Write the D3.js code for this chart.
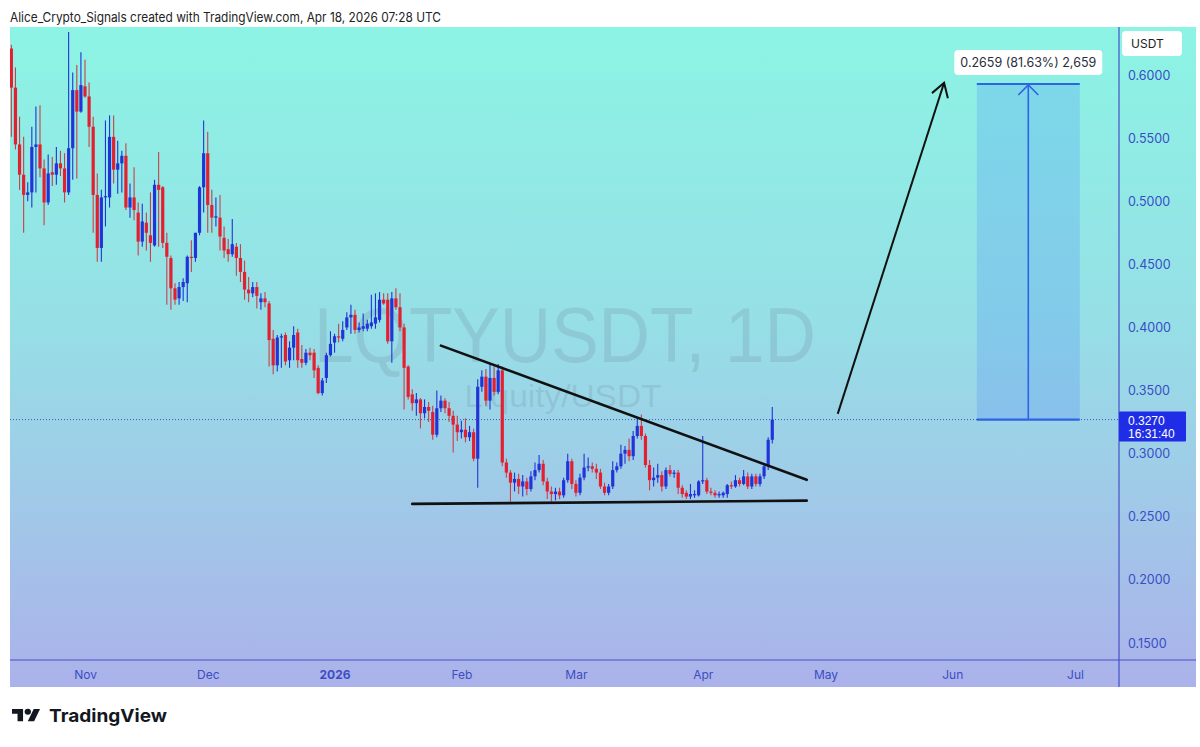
<!DOCTYPE html>
<html><head><meta charset="utf-8">
<script src="https://cdn.jsdelivr.net/npm/d3@7"></script>
<style>
body{margin:0;background:#fff;}
svg{display:block;font-family:"Inter","Liberation Sans",Arial,sans-serif;}
</style>
</head><body>
<svg id="c" width="1200" height="747"></svg>
<script>
// ---------- DATA ----------
const startDate = "2025-10-14"; // first daily candle
const opens = [
0.621,0.590,0.545,0.521,0.505,0.507,0.543,0.545,0.526,0.499,0.523,0.521,0.530,0.526,0.507,0.542,0.588,0.571,0.591,0.583,
0.559,0.505,0.463,0.503,0.503,0.551,0.525,0.530,0.536,0.495,0.503,0.491,0.468,0.483,0.473,0.465,0.513,0.511,0.467,0.455,
0.431,0.423,0.432,0.435,0.456,0.455,0.475,0.511,0.538,0.497,0.487,0.487,0.471,0.462,0.458,0.464,0.455,0.444,0.430,0.427,
0.432,0.420,0.423,0.419,0.391,0.370,0.392,0.394,0.374,0.384,0.396,0.375,0.372,0.380,0.380,0.368,0.348,0.360,0.378,0.388,
0.393,0.391,0.400,0.408,0.410,0.398,0.399,0.399,0.401,0.403,0.406,0.422,0.422,0.389,0.423,0.416,0.400,0.369,0.347,0.340,
0.343,0.332,0.337,0.333,0.315,0.336,0.342,0.336,0.330,0.323,0.317,0.319,0.313,0.317,0.296,0.353,0.361,0.342,0.360,0.349,
0.366,0.293,0.285,0.277,0.280,0.274,0.278,0.272,0.282,0.287,0.292,0.278,0.270,0.268,0.270,0.267,0.279,0.294,0.276,0.269,
0.281,0.289,0.290,0.288,0.285,0.274,0.269,0.274,0.287,0.290,0.300,0.303,0.298,0.314,0.322,0.314,0.291,0.279,0.281,0.283,
0.274,0.287,0.284,0.285,0.273,0.269,0.266,0.267,0.267,0.278,0.279,0.270,0.269,0.267,0.267,0.268,0.275,0.274,0.279,0.276,
0.282,0.274,0.282,0.276,0.282,0.290,0.311];
const highs = [
0.624,0.606,0.567,0.551,0.515,0.559,0.575,0.576,0.533,0.537,0.535,0.543,0.540,0.538,0.634,0.602,0.608,0.618,0.612,0.594,
0.567,0.522,0.509,0.564,0.568,0.568,0.548,0.540,0.546,0.514,0.527,0.499,0.498,0.491,0.507,0.517,0.539,0.512,0.475,0.457,
0.435,0.436,0.439,0.457,0.469,0.475,0.512,0.564,0.555,0.509,0.503,0.505,0.480,0.470,0.486,0.467,0.466,0.453,0.440,0.436,
0.436,0.427,0.428,0.421,0.398,0.394,0.395,0.396,0.389,0.401,0.399,0.386,0.383,0.384,0.383,0.370,0.360,0.380,0.397,0.395,
0.403,0.405,0.412,0.418,0.414,0.404,0.411,0.406,0.426,0.427,0.428,0.427,0.427,0.428,0.431,0.427,0.403,0.370,0.351,0.348,
0.344,0.343,0.341,0.338,0.350,0.346,0.344,0.341,0.334,0.330,0.326,0.328,0.322,0.320,0.359,0.366,0.367,0.371,0.369,0.371,
0.369,0.296,0.287,0.285,0.284,0.283,0.281,0.286,0.293,0.299,0.295,0.281,0.274,0.273,0.273,0.281,0.300,0.296,0.279,0.284,
0.300,0.297,0.293,0.292,0.288,0.277,0.276,0.294,0.293,0.307,0.306,0.312,0.318,0.328,0.331,0.316,0.295,0.289,0.292,0.286,
0.289,0.291,0.287,0.287,0.275,0.271,0.276,0.271,0.279,0.314,0.281,0.273,0.271,0.270,0.270,0.276,0.278,0.283,0.281,0.287,
0.285,0.284,0.284,0.284,0.291,0.313,0.337];
const lows = [
0.551,0.541,0.509,0.475,0.500,0.495,0.507,0.519,0.481,0.497,0.512,0.513,0.520,0.499,0.505,0.517,0.518,0.570,0.582,0.543,
0.475,0.452,0.452,0.480,0.495,0.514,0.506,0.507,0.493,0.487,0.485,0.457,0.464,0.461,0.452,0.464,0.464,0.463,0.418,0.414,
0.418,0.418,0.421,0.420,0.444,0.452,0.473,0.491,0.475,0.475,0.480,0.461,0.455,0.452,0.456,0.441,0.436,0.422,0.420,0.424,
0.415,0.414,0.416,0.369,0.363,0.365,0.368,0.370,0.368,0.374,0.368,0.368,0.370,0.374,0.360,0.347,0.346,0.356,0.377,0.380,
0.388,0.389,0.398,0.395,0.395,0.396,0.397,0.397,0.399,0.399,0.404,0.418,0.387,0.372,0.414,0.397,0.335,0.343,0.334,0.330,
0.320,0.328,0.325,0.311,0.313,0.333,0.332,0.325,0.301,0.310,0.312,0.309,0.310,0.294,0.273,0.349,0.338,0.335,0.346,0.347,
0.290,0.281,0.262,0.270,0.268,0.266,0.267,0.270,0.279,0.285,0.275,0.264,0.262,0.263,0.264,0.265,0.277,0.272,0.266,0.267,
0.279,0.286,0.285,0.280,0.272,0.267,0.267,0.272,0.285,0.288,0.292,0.294,0.295,0.312,0.311,0.289,0.271,0.274,0.277,0.270,
0.272,0.282,0.281,0.268,0.265,0.264,0.264,0.265,0.266,0.276,0.268,0.267,0.265,0.265,0.265,0.265,0.272,0.273,0.274,0.275,
0.272,0.272,0.274,0.274,0.280,0.287,0.308];
const closes = [
0.590,0.545,0.521,0.505,0.507,0.543,0.545,0.526,0.499,0.522,0.521,0.530,0.526,0.507,0.542,0.588,0.571,0.592,0.583,0.559,
0.505,0.463,0.503,0.504,0.551,0.525,0.530,0.536,0.495,0.503,0.493,0.468,0.484,0.475,0.467,0.513,0.509,0.467,0.456,0.431,
0.422,0.432,0.436,0.456,0.455,0.475,0.511,0.538,0.497,0.487,0.488,0.472,0.461,0.458,0.466,0.455,0.444,0.430,0.427,0.432,
0.425,0.423,0.420,0.390,0.370,0.392,0.393,0.373,0.384,0.394,0.374,0.372,0.380,0.378,0.366,0.348,0.358,0.378,0.387,0.393,
0.392,0.398,0.408,0.410,0.398,0.400,0.401,0.403,0.404,0.408,0.422,0.419,0.389,0.423,0.416,0.400,0.368,0.345,0.340,0.343,
0.332,0.337,0.334,0.315,0.336,0.342,0.336,0.330,0.323,0.317,0.319,0.313,0.317,0.296,0.353,0.361,0.342,0.360,0.349,0.366,
0.293,0.285,0.277,0.280,0.274,0.278,0.272,0.282,0.287,0.292,0.278,0.270,0.268,0.270,0.267,0.279,0.294,0.276,0.269,0.281,
0.289,0.290,0.288,0.285,0.274,0.269,0.274,0.287,0.290,0.300,0.303,0.298,0.314,0.322,0.314,0.291,0.279,0.281,0.283,0.274,
0.287,0.284,0.285,0.273,0.268,0.266,0.268,0.268,0.278,0.279,0.270,0.269,0.267,0.268,0.269,0.275,0.274,0.279,0.276,0.282,
0.274,0.282,0.276,0.282,0.290,0.311,0.327];

const priceTicks = [0.15,0.20,0.25,0.30,0.35,0.40,0.45,0.50,0.55,0.60];
const timeTickDates = ["2025-11-01","2025-12-01","2026-01-01","2026-02-01","2026-03-01","2026-04-01","2026-05-01","2026-06-01","2026-07-01"];
const timeTickLabels = ["Nov","Dec","2026","Feb","Mar","Apr","May","Jun","Jul"];
const lastPrice = 0.3270;
const countdown = "16:31:40";
const resistanceLine = [["2026-01-27T00:00Z",0.3856],["2026-04-26T10:00Z",0.2793]];
const supportLine    = [["2026-01-20T00:00Z",0.2602],["2026-04-26T10:00Z",0.2628]];
const targetArrow    = [["2026-05-04T00:00Z",0.3315],["2026-05-30T00:00Z",0.5939]];
const measureDates   = ["2026-06-07T00:00Z","2026-07-02T04:00Z"];
const measurePrices  = [0.3270,0.5929];
const measureLabel   = "0.2659 (81.63%) 2,659";
const headerText = "Alice_Crypto_Signals created with TradingView.com, Apr 18, 2026 07:28 UTC";
const symbolText = "LQTYUSDT, 1D";
const symbolSub = "Liquity/USDT";

// ---------- DRAW ----------
const svg = d3.select("#c");
const plotL = 10, plotR = 1119, plotT = 27, plotB = 660, areaR = 1196, areaB = 687;
const x = d3.scaleUtc().domain([new Date("2025-11-01T00:00Z"), new Date("2026-07-01T00:00Z")]).range([85,1075]);
const y = d3.scaleLinear().domain([0.15,0.60]).range([643,75]);
const red = "#e3202f", blue = "#2234d8";

const defs = svg.append("defs");
const grad = defs.append("linearGradient").attr("id","bg").attr("x1",0).attr("y1",0).attr("x2",0).attr("y2",1);
grad.append("stop").attr("offset","0%").attr("stop-color","#8cf4e4");
grad.append("stop").attr("offset","45%").attr("stop-color","#96dfe6");
grad.append("stop").attr("offset","100%").attr("stop-color","#abb2ea");
defs.append("clipPath").attr("id","plot").append("rect")
  .attr("x",plotL).attr("y",plotT).attr("width",plotR-plotL).attr("height",plotB-plotT);

svg.append("rect").attr("x",plotL).attr("y",plotT).attr("width",areaR-plotL).attr("height",areaB-plotT).attr("fill","url(#bg)");

// header
svg.append("text").attr("x",10).attr("y",22).attr("font-size",13).attr("fill","#222")
  .attr("textLength",431).attr("lengthAdjust","spacingAndGlyphs").text(headerText);

// watermark
const wmFont = "Liberation Sans, Arial, sans-serif";
svg.append("text").attr("x",565).attr("y",362).attr("text-anchor","middle").attr("font-size",78).attr("font-family",wmFont)
  .attr("fill","#6f8696").attr("fill-opacity",0.22).attr("textLength",502).attr("lengthAdjust","spacingAndGlyphs").text(symbolText);
svg.append("text").attr("x",563).attr("y",407).attr("text-anchor","middle").attr("font-size",31).attr("font-family",wmFont)
  .attr("fill","#6f8696").attr("fill-opacity",0.22).attr("textLength",197).attr("lengthAdjust","spacingAndGlyphs").text(symbolSub);

// last price dotted line
svg.append("line").attr("x1",plotL).attr("x2",plotR).attr("y1",y(lastPrice)).attr("y2",y(lastPrice))
  .attr("stroke","#3d55c8").attr("stroke-width",1).attr("stroke-dasharray","1,2");

// candles
const day = 864e5;
const t0 = Date.parse(startDate+"T00:00:00Z");
const candles = closes.map((c,i)=>({d:new Date(t0+i*day),o:opens[i],h:highs[i],l:lows[i],c}));
const cg = svg.append("g").attr("clip-path","url(#plot)");
cg.selectAll("line.wick").data(candles).join("line").attr("class","wick")
  .attr("x1",d=>x(d.d)).attr("x2",d=>x(d.d)).attr("y1",d=>y(d.h)).attr("y2",d=>y(d.l))
  .attr("stroke",d=>d.c>=d.o?blue:"#c8404a").attr("stroke-width",1.1);
cg.selectAll("rect.body").data(candles).join("rect").attr("class","body")
  .attr("x",d=>x(d.d)-1.6).attr("width",3.2)
  .attr("y",d=>y(Math.max(d.o,d.c))).attr("height",d=>Math.max(1.2,Math.abs(y(d.o)-y(d.c))))
  .attr("fill",d=>d.c>=d.o?blue:red);

// trend lines
const P = a=>[x(new Date(a[0])), y(a[1])];
[resistanceLine, supportLine].forEach(l=>{
  const a=P(l[0]), b=P(l[1]);
  svg.append("line").attr("x1",a[0]).attr("y1",a[1]).attr("x2",b[0]).attr("y2",b[1])
    .attr("stroke","#111").attr("stroke-width",2.6).attr("stroke-linecap","round");
});
// target arrow
{
  const a=P(targetArrow[0]), b=P(targetArrow[1]);
  svg.append("line").attr("x1",a[0]).attr("y1",a[1]).attr("x2",b[0]).attr("y2",b[1])
    .attr("stroke","#111").attr("stroke-width",2);
  const ang=Math.atan2(b[1]-a[1],b[0]-a[0]), L=16, s=0.55;
  const p1=[b[0]-L*Math.cos(ang-s), b[1]-L*Math.sin(ang-s)];
  const p2=[b[0]-L*Math.cos(ang+s), b[1]-L*Math.sin(ang+s)];
  svg.append("path").attr("d",`M${p1}L${b}L${p2}`).attr("fill","none").attr("stroke","#111").attr("stroke-width",2);
}
// measure box
{
  const x0=x(new Date(measureDates[0])), x1=x(new Date(measureDates[1]));
  const yb=y(measurePrices[0]), yt=y(measurePrices[1]);
  svg.append("rect").attr("x",x0).attr("y",yt).attr("width",x1-x0).attr("height",yb-yt)
    .attr("fill","#2962ff").attr("fill-opacity",0.17);
  const mc="#2f63e6";
  svg.append("line").attr("x1",x0).attr("x2",x1).attr("y1",yt).attr("y2",yt).attr("stroke",mc).attr("stroke-width",2);
  svg.append("line").attr("x1",x0).attr("x2",x1).attr("y1",yb).attr("y2",yb).attr("stroke",mc).attr("stroke-width",2.2);
  const xm=(x0+x1)/2;
  svg.append("line").attr("x1",xm).attr("x2",xm).attr("y1",yb).attr("y2",yt).attr("stroke",mc).attr("stroke-width",1.6);
  svg.append("path").attr("d",`M${xm-10},${yt+11}L${xm},${yt+1}L${xm+10},${yt+11}`).attr("fill","none").attr("stroke",mc).attr("stroke-width",1.6);
  svg.append("rect").attr("x",xm-74).attr("y",yt-34).attr("width",148).attr("height",25).attr("rx",4).attr("fill","#fff");
  svg.append("text").attr("x",xm).attr("y",yt-17).attr("text-anchor","middle").attr("font-size",12.5).attr("fill","#2a2e39").text(measureLabel);
}

// axis separators
svg.append("line").attr("x1",plotL).attr("x2",areaR).attr("y1",plotB).attr("y2",plotB).attr("stroke","#4650c8").attr("stroke-width",1.2);
svg.append("line").attr("x1",plotR).attr("x2",plotR).attr("y1",plotT).attr("y2",areaB).attr("stroke","#4650c8").attr("stroke-width",1.2);

// price axis
const ya = svg.append("g").attr("transform",`translate(${plotR},0)`)
  .call(d3.axisRight(y).tickValues(priceTicks).tickFormat(d3.format(".4f")).tickSize(0).tickPadding(9));
ya.select(".domain").remove();
ya.selectAll("text").attr("fill","#3a4cc6").attr("font-size",12.5).attr("font-family","Inter, Liberation Sans, Arial");

// time axis
const xa = svg.append("g").attr("transform",`translate(0,${plotB})`)
  .call(d3.axisBottom(x).tickValues(timeTickDates.map(d=>new Date(d+"T00:00Z"))).tickFormat((d,i)=>timeTickLabels[i]).tickSize(0).tickPadding(10));
xa.select(".domain").remove();
xa.selectAll("text").attr("fill","#3e4cc4").attr("font-size",12).attr("font-family","Inter, Liberation Sans, Arial")
  .attr("font-weight",(d,i)=>timeTickLabels[i]==="2026"?700:400);

// USDT box
svg.append("rect").attr("x",1122).attr("y",31).attr("width",60).attr("height",25).attr("rx",4).attr("fill","#fff");
svg.append("text").attr("x",1131).attr("y",48).attr("font-size",12).attr("fill","#222").text("USDT");

// last price label
const lpFont = "Liberation Sans, Arial, sans-serif";
svg.append("rect").attr("x",plotR).attr("y",y(lastPrice)-8).attr("width",67).attr("height",30).attr("fill","#1f2de6").attr("rx",1);
svg.append("text").attr("x",plotR+9).attr("y",y(lastPrice)+5).attr("font-size",12).attr("font-family",lpFont).attr("fill","#fff").text(d3.format(".4f")(lastPrice));
svg.append("text").attr("x",plotR+9).attr("y",y(lastPrice)+18.5).attr("font-size",12).attr("font-family",lpFont).attr("fill","#fff").text(countdown);

// TradingView logo
svg.append("g").attr("transform","translate(12,706.3) scale(0.79,0.68)").attr("fill","#131722")
  .call(g=>{g.append("path").attr("d","M14 22H7V11H0V4h14v18zM28 22h-8l7.5-18h8L28 22z"); g.append("ellipse").attr("cx",20).attr("cy",8).attr("rx",4).attr("ry",4.3);});
svg.append("text").attr("x",49).attr("y",722).attr("font-size",18).attr("font-weight",700).attr("fill","#131722")
  .attr("textLength",118).attr("lengthAdjust","spacingAndGlyphs").text("TradingView");
</script>
</body></html>
